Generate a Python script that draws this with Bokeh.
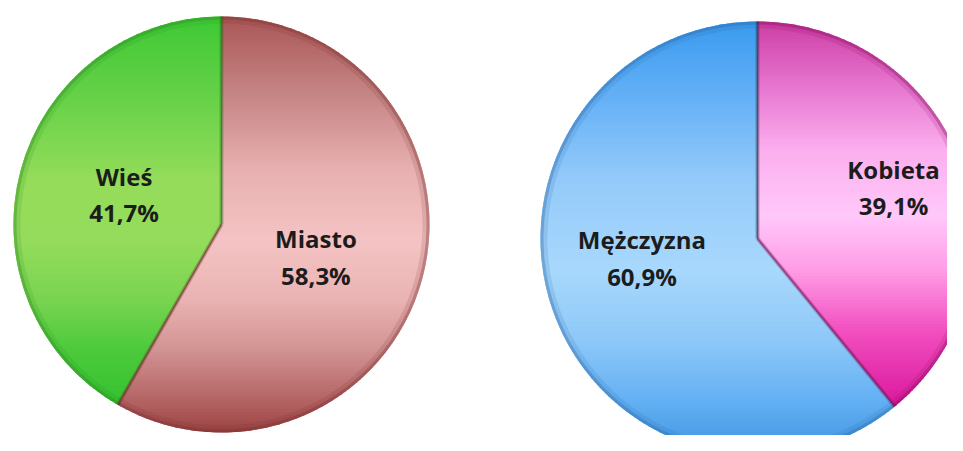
import numpy as np
from bokeh.plotting import figure
from bokeh.models import Range1d
from bokeh.core.properties import value
from bokeh.embed import file_html
from bokeh.resources import INLINE

# ---------------- data ----------------
place_labels = ["Miasto", "Wieś"]
place_values = [58.3, 41.7]
sex_labels = ["Kobieta", "Mężczyzna"]
sex_values = [39.1, 60.9]

# ---------------- style / layout ----------------
W, H = 947, 435
PAGE_H = 451  # screen coordinates -> data y = PAGE_H - screen_y


def sy(y_screen):
    return PAGE_H - y_screen


# gradient stops (screen y, colour) per slice
place_stops = [
    [(13, "#a85454"), (90, "#c48282"), (170, "#e8b0b0"), (240, "#f4c3c3"),
     (300, "#eab3b3"), (350, "#d29292"), (400, "#b46464"), (433, "#9c4242")],
    [(13, "#3cc834"), (90, "#62d046"), (180, "#94dc5a"), (240, "#96dc5c"),
     (300, "#78d450"), (350, "#4cca3c"), (400, "#36c230")],
]
sex_stops = [
    [(22, "#cc3ea4"), (80, "#e470cc"), (150, "#fcaeee"), (215, "#ffc8fa"),
     (270, "#ff9ce6"), (330, "#f250c0"), (400, "#dc1ca0"), (455, "#c01088")],
    [(22, "#3a9aee"), (90, "#60aef6"), (180, "#94cafa"), (270, "#a8d8fc"),
     (340, "#8ec8f8"), (400, "#64b0f4"), (455, "#3e94e0")],
]
place_rim = ["#7a3030", "#2a8a22"]
sex_rim = ["#8a0c60", "#2a6aaa"]
place_edge = ["#6a2a2a", "#1e6a18"]
sex_edge = ["#7a0a50", "#262c40"]

pies = [
    dict(labels=place_labels, values=place_values, cx=221, cy=sy(224), r=208,
         stops=place_stops, rim=place_rim, edge=place_edge,
         lab_r=[0.48, 0.49], lab_rot=[-4, -2]),
    dict(labels=sex_labels, values=sex_values, cx=757, cy=sy(238), r=217,
         stops=sex_stops, rim=sex_rim, edge=sex_edge,
         lab_r=[0.67, 0.54], lab_rot=[1, -10]),
]


def hex2rgb(h):
    h = h.lstrip("#")
    return np.array([int(h[i:i + 2], 16) for i in (0, 2, 4)], dtype=float)


def colour_at(stops, y_screen):
    ys = [s[0] for s in stops]
    cols = [hex2rgb(s[1]) for s in stops]
    rgb = [np.interp(y_screen, ys, [c[k] for c in cols]) for k in range(3)]
    return "#%02x%02x%02x" % tuple(int(round(v)) for v in rgb)


def sector(cx, cy, r, a0, a1, n=240):
    t = np.linspace(a0, a1, n)
    xs = [cx] + list(cx + r * np.cos(t))
    ys = [cy] + list(cy + r * np.sin(t))
    return list(zip(xs, ys))


def clip_half(poly, yc, keep_above):
    out = []
    if not poly:
        return out
    def inside(pt):
        return pt[1] >= yc if keep_above else pt[1] <= yc
    prev = poly[-1]
    for cur in poly:
        ci, pi_ = inside(cur), inside(prev)
        if ci:
            if not pi_:
                t = (yc - prev[1]) / (cur[1] - prev[1])
                out.append((prev[0] + t * (cur[0] - prev[0]), yc))
            out.append(cur)
        elif pi_:
            t = (yc - prev[1]) / (cur[1] - prev[1])
            out.append((prev[0] + t * (cur[0] - prev[0]), yc))
        prev = cur
    return out


p = figure(width=W, height=H, x_range=Range1d(0, W), y_range=Range1d(PAGE_H - H, PAGE_H),
           output_backend="svg", toolbar_location=None, min_border=0,
           x_axis_type=None, y_axis_type=None)
p.grid.visible = False
p.outline_line_color = None
p.background_fill_color = "white"
p.border_fill_color = "white"

for pie in pies:
    cx, cy, r = pie["cx"], pie["cy"], pie["r"]
    vals = np.array(pie["values"], dtype=float)
    frac = vals / vals.sum()
    # first slice clockwise from 12 o'clock
    ends = np.pi / 2 - 2 * np.pi * np.cumsum(frac)
    starts = np.concatenate([[np.pi / 2], ends[:-1]])
    # bokeh wedges are drawn anticlockwise from start to end
    w_start = ends
    w_end = starts
    mid_cols = [colour_at(st, PAGE_H - cy) for st in pie["stops"]]
    p.wedge(x=[cx] * len(vals), y=[cy] * len(vals), radius=r,
            start_angle=list(w_start), end_angle=list(w_end),
            fill_color=mid_cols, line_color=None)

    # vertical shading bands
    bx, by, bc = [], [], []
    step = 3.0
    for i in range(len(vals)):
        a0 = w_start[i]
        a1 = w_end[i]
        if a1 < a0:
            a1 += 2 * np.pi
        poly = sector(cx, cy, r, a0, a1)
        y = cy + r
        while y > cy - r:
            band = clip_half(clip_half(poly, y - step - 0.6, True), y + 0.6, False)
            if len(band) >= 3:
                bx.append([q[0] for q in band])
                by.append([q[1] for q in band])
                bc.append(colour_at(pie["stops"][i], PAGE_H - (y - step / 2)))
            y -= step
    p.patches(xs=bx, ys=by, fill_color=bc, line_color=None)

    # rim bevel
    p.annular_wedge(x=[cx] * len(vals), y=[cy] * len(vals), inner_radius=r - 7,
                    outer_radius=r, start_angle=list(w_start), end_angle=list(w_end),
                    fill_color=pie["rim"], fill_alpha=0.15, line_color=None)
    p.annular_wedge(x=[cx] * len(vals), y=[cy] * len(vals), inner_radius=r - 3,
                    outer_radius=r, start_angle=list(w_start), end_angle=list(w_end),
                    fill_color=pie["rim"], fill_alpha=0.35, line_color=None)

    # slice boundaries (shadow)
    for k, ang in enumerate(starts):
        ex, ey = cx + r * np.cos(ang), cy + r * np.sin(ang)
        col = pie["edge"][k - 1]
        p.line(x=[cx, ex], y=[cy, ey], line_color=col, line_width=4, line_alpha=0.3)
        p.line(x=[cx, ex], y=[cy, ey], line_color=col, line_width=1.5, line_alpha=0.6)

    # labels
    mids = (starts + ends) / 2
    lx, ly, lt = [], [], []
    for i, lab in enumerate(pie["labels"]):
        a = mids[i] + np.radians(pie["lab_rot"][i])
        rr = pie["lab_r"][i] * r
        lx.append(cx + rr * np.cos(a))
        ly.append(cy + rr * np.sin(a))
        lt.append(f"{lab}\n{vals[i]:.1f}%".replace(".", ","))
    p.text(x=lx, y=ly, text=lt, text_align="center", text_baseline="middle",
           text_font=value("Open Sans"), text_font_style="bold",
           text_font_size="24px", text_color="#1c1c1c", text_line_height=1.1)

open("out.html", "w").write(file_html(p, INLINE))
